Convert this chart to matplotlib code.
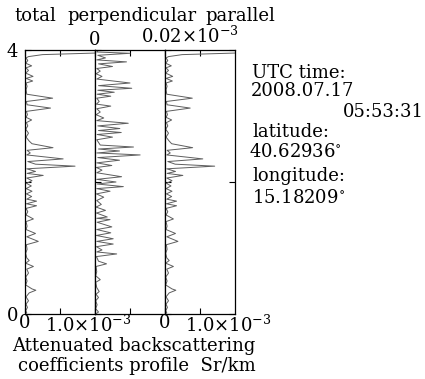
import numpy as np
import matplotlib
matplotlib.use("Agg")
import matplotlib.pyplot as plt

# altitude (km) and attenuated backscatter, total / parallel in 1e-3 Sr/km
total_alt = [4.00, 3.96, 3.93, 3.90, 3.88, 3.84, 3.80, 3.76, 3.73, 3.69, 3.65, 3.60, 3.57, 3.53,
             3.50, 3.45, 3.40, 3.33, 3.27, 3.22, 3.17, 3.12, 3.07, 3.02, 2.98, 2.94, 2.90, 2.85,
             2.80, 2.74, 2.68, 2.62, 2.58, 2.52, 2.48, 2.44, 2.41, 2.35, 2.31, 2.27, 2.24, 2.20,
             2.16, 2.13, 2.10, 2.06, 2.02, 1.98, 1.94, 1.90, 1.86, 1.82, 1.78, 1.74, 1.71, 1.67,
             1.64, 1.60, 1.55, 1.50, 1.44, 1.40, 1.33, 1.28, 1.22, 1.17, 1.10, 1.05, 0.98, 0.92,
             0.85, 0.81, 0.77, 0.72, 0.68, 0.62, 0.56, 0.50, 0.44, 0.38, 0.36, 0.32, 0.26, 0.20,
             0.15, 0.10, 0.05, 0.02, 0.00]
total_val = [2.40, 2.40, 0.50, 0.10, 0.03, 0.08, 0.02, 0.19, 0.03, 0.10, 0.02, 0.23, 0.03, 0.22,
             0.03, 0.06, 0.03, 0.05, 0.79, 0.04, 0.06, 0.73, 0.04, 0.07, 0.03, 0.19, 0.04, 0.08,
             0.02, 0.10, 0.03, 0.12, 0.20, 0.80, 0.06, 0.15, 0.05, 1.09, 0.08, 0.30, 1.43, 0.05,
             0.30, 0.06, 0.52, 0.05, 0.20, 0.04, 0.18, 0.03, 0.20, 0.04, 0.19, 0.05, 0.33, 0.04,
             0.33, 0.03, 0.08, 0.03, 0.24, 0.03, 0.06, 0.03, 0.30, 0.05, 0.38, 0.04, 0.06, 0.02,
             0.05, 0.12, 0.02, 0.24, 0.05, 0.10, 0.02, 0.06, 0.02, 0.20, 0.31, 0.12, 0.03, 0.10,
             0.03, 0.07, 0.02, 0.05, 0.01]
parallel_val = [2.40, 2.40, 0.49, 0.10, 0.03, 0.08, 0.02, 0.18, 0.03, 0.10, 0.02, 0.22, 0.03, 0.21,
                0.03, 0.06, 0.03, 0.05, 0.78, 0.04, 0.06, 0.72, 0.04, 0.07, 0.03, 0.19, 0.04, 0.08,
                0.02, 0.10, 0.03, 0.12, 0.19, 0.79, 0.06, 0.15, 0.05, 1.08, 0.08, 0.29, 1.42, 0.05,
                0.30, 0.06, 0.51, 0.05, 0.20, 0.04, 0.17, 0.03, 0.20, 0.04, 0.19, 0.05, 0.33, 0.04,
                0.33, 0.03, 0.08, 0.03, 0.24, 0.03, 0.06, 0.03, 0.30, 0.05, 0.37, 0.04, 0.06, 0.02,
                0.05, 0.12, 0.02, 0.24, 0.05, 0.10, 0.02, 0.06, 0.02, 0.20, 0.31, 0.12, 0.03, 0.10,
                0.03, 0.07, 0.02, 0.05, 0.01]

# perpendicular in 1e-5 Sr/km
perp_alt = [4.00, 3.97, 3.95, 3.92, 3.88, 3.85, 3.82, 3.79, 3.75, 3.72, 3.68, 3.64, 3.60, 3.56,
            3.50, 3.46, 3.42, 3.39, 3.36, 3.33, 3.30, 3.27, 3.22, 3.18, 3.15, 3.11, 3.06, 3.02,
            2.97, 2.93, 2.89, 2.85, 2.81, 2.78, 2.75, 2.72, 2.68, 2.64, 2.60, 2.56, 2.53, 2.50,
            2.47, 2.44, 2.41, 2.37, 2.33, 2.29, 2.25, 2.22, 2.18, 2.14, 2.08, 2.04, 2.00, 1.97,
            1.93, 1.90, 1.86, 1.82, 1.77, 1.72, 1.66, 1.62, 1.57, 1.53, 1.47, 1.45, 1.43, 1.39,
            1.32, 1.28, 1.23, 1.19, 1.14, 1.10, 1.06, 1.02, 0.97, 0.94, 0.91, 0.87, 0.80, 0.76,
            0.72, 0.64, 0.58, 0.52, 0.48, 0.40, 0.34, 0.30, 0.25, 0.20, 0.14, 0.08, 0.03, 0.00]
perp_val = [0.10, 0.05, 1.00, 0.08, 0.30, 0.05, 0.90, 0.10, 0.50, 0.05, 0.15, 0.03, 0.20, 0.05,
            1.00, 0.10, 1.05, 0.08, 0.55, 0.06, 0.45, 0.05, 0.12, 0.04, 0.45, 0.05, 0.15, 0.03,
            0.25, 0.05, 0.95, 0.08, 0.71, 0.10, 0.75, 0.06, 0.50, 0.05, 0.10, 0.15, 1.10, 0.10,
            0.70, 0.05, 1.29, 0.08, 0.70, 0.05, 0.48, 0.04, 0.20, 0.05, 0.76, 0.05, 0.60, 0.06,
            0.81, 0.05, 0.43, 0.04, 0.25, 0.05, 0.18, 0.03, 0.30, 0.04, 0.35, 0.05, 0.43, 0.06,
            0.48, 0.05, 0.45, 0.04, 0.52, 0.05, 0.52, 0.04, 0.20, 0.05, 0.62, 0.04, 0.10, 0.33,
            0.03, 0.05, 0.02, 0.15, 0.02, 0.05, 0.12, 0.03, 0.10, 0.02, 0.06, 0.02, 0.10, 0.02]

plt.rcParams['font.family'] = ['DejaVu Serif']
plt.rcParams['mathtext.fontset'] = 'dejavuserif'
FS = 13
W, H = 425, 379

fig = plt.figure(figsize=(W / 100, H / 100), dpi=100)

def px(x, y):
    return x / W, 1 - y / H

line_kw = dict(color='#5e5e5e', lw=0.7)
axes = []
for i in range(3):
    ax = fig.add_axes([(25 + 70 * i) / W, (H - 314) / H, 70 / W, 264 / H])
    ax.set_ylim(0, 4)
    ax.set_yticks([0, 2, 4])
    ax.tick_params(direction='in', length=4, width=0.8, labelsize=FS, pad=2)
    ax.tick_params(axis='y', pad=5)
    for s in ax.spines.values():
        s.set_linewidth(0.9)
    axes.append(ax)

ax1, ax2, ax3 = axes
ax1.plot(np.array(total_val) * 1e-3, total_alt, **line_kw)
ax2.plot(np.array(perp_val) * 1e-5, perp_alt, **line_kw)
ax3.plot(np.array(parallel_val) * 1e-3, total_alt, **line_kw)

for ax in (ax1, ax3):
    ax.set_xlim(0, 2e-3)
    ax.set_xticks([0, 1e-3])
    ax.set_xticklabels(['0', ''])
    ax.tick_params(axis='x', top=True, bottom=True, pad=0)
    ax.text(0.28, -0.004, '1.0\u00d710$^{-3}$', transform=ax.transAxes,
            ha='left', va='top', fontsize=FS)
ax2.set_xlim(0, 2e-5)
ax2.set_xticks([0, 1e-5])
ax2.xaxis.tick_top()
ax2.tick_params(axis='x', top=True, bottom=True, labelbottom=False, labeltop=True, pad=1)
ax2.set_xticklabels(['0', ''])
ax2.text(0.66, 1.012, '0.02\u00d710$^{-3}$', transform=ax2.transAxes,
         ha='left', va='bottom', fontsize=FS)

ax1.set_yticklabels(['0', '', '4'])
ax2.set_yticklabels([])
ax3.set_yticklabels([])
ax3.tick_params(axis='y', right=True)

# header words
for word, x in [('total', 14), ('perpendicular', 67), ('parallel', 205)]:
    fig.text(*px(x, 21), word, fontsize=FS, va='baseline', ha='left')

fig.text(*px(12, 351), 'Attenuated backscattering', fontsize=FS, va='baseline')
fig.text(*px(18, 371), 'coefficients profile  Sr/km', fontsize=FS, va='baseline')

info = [('UTC time:', 252, 78, 'left'), ('2008.07.17', 251, 96, 'left'),
        ('05:53:31', 424, 117, 'right'), ('latitude:', 252, 137, 'left'),
        ('40.62936$^{\\circ}$', 249, 157, 'left'), ('longitude:', 252, 181, 'left'),
        ('15.18209$^{\\circ}$', 252, 203, 'left')]
for txt, x, y, ha in info:
    fig.text(*px(x, y), txt, fontsize=FS, va='baseline', ha=ha)

fig.savefig('out.png', dpi=100)
